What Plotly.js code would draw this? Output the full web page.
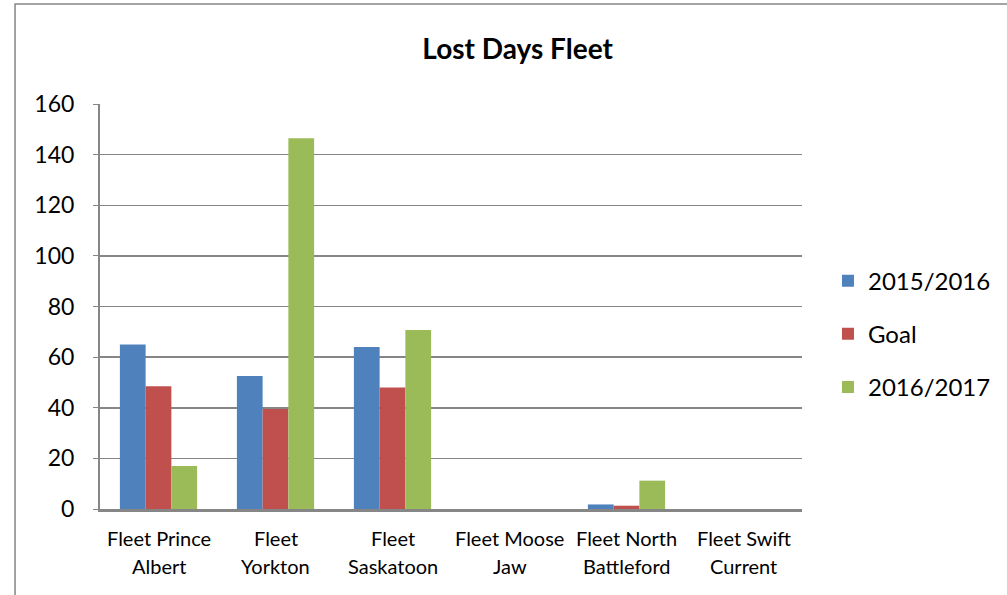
<!DOCTYPE html>
<html><head><meta charset="utf-8">
<script src="https://cdn.plot.ly/plotly-3.0.1.min.js"></script>
<style>html,body{margin:0;padding:0;background:#fff;}#chart{width:1007px;height:595px;}</style>
</head><body><div id="chart"></div>
<script>
const categories = ["Fleet Prince<br>Albert", "Fleet<br>Yorkton", "Fleet<br>Saskatoon", "Fleet Moose<br>Jaw", "Fleet North<br>Battleford", "Fleet Swift<br>Current"];
const series2015 = [65, 52.5, 64, 0, 1.8, 0];
const seriesGoal = [48.5, 39.5, 48, 0, 1.3, 0];
const series2016 = [17, 146.5, 70.7, 0, 11.2, 0];
const yTicks = [0, 20, 40, 60, 80, 100, 120, 140, 160];

const font = "Lato, 'Open Sans', 'DejaVu Sans', sans-serif";
const mk = (name, y, color) => ({type: 'bar', name, x: categories, y, legendgroup: name,
  marker: {color, line: {width: 0}}});
const data = [
  mk('2015/2016', series2015, '#4F81BD'),
  mk('Goal', seriesGoal, '#C0504D'),
  mk('2016/2017', series2016, '#9BBB59')
];
// category labels drawn as two separate lines to match the wider line spacing
const annotations = [];
categories.forEach(c => {
  const parts = c.split('<br>');
  parts.forEach((p, i) => annotations.push({
    x: c, xref: 'x', y: 0, yref: 'y', text: p, showarrow: false,
    yanchor: 'middle', xanchor: 'center', yshift: -(29 + 28 * i),
    font: {size: 20, family: font, color: '#000'}
  }));
});
const layout = {
  width: 1007, height: 595,
  margin: {l: 100, r: 205, t: 104, b: 86, autoexpand: false},
  paper_bgcolor: '#fff', plot_bgcolor: '#fff',
  font: {family: font, color: '#000'},
  title: {text: '<b>Lost Days Fleet</b>', font: {size: 28, family: font, color: '#000'},
    xref: 'container', x: 0.514, xanchor: 'center', yref: 'container', y: 0.918, yanchor: 'middle'},
  barmode: 'group', bargap: 0.34, bargroupgap: 0,
  showlegend: true,
  legend: {x: 1.037, xanchor: 'left', y: 0.432, yanchor: 'middle', font: {size: 24, family: font},
    traceorder: 'grouped', tracegroupgap: 19, itemwidth: 30, bgcolor: 'rgba(0,0,0,0)'},
  xaxis: {type: 'category', showgrid: false, showline: true, linecolor: '#868686', linewidth: 2.5,
    ticks: '', showticklabels: false, fixedrange: true},
  yaxis: {range: [0, 160], tickvals: yTicks, showgrid: true, gridcolor: '#868686', gridwidth: 1.5,
    showline: true, linecolor: '#868686', linewidth: 2, ticks: 'outside', ticklen: 5, tickcolor: '#868686',
    tickfont: {size: 23, family: font}, ticklabelstandoff: 14, zeroline: false, fixedrange: true},
  annotations,
  shapes: [{type: 'rect', xref: 'paper', yref: 'paper', x0: -0.121, x1: 1.4, y0: -0.4, y1: 1.247,
    line: {color: '#868686', width: 1.5}, fillcolor: 'rgba(0,0,0,0)', layer: 'below'}]
};
Plotly.newPlot('chart', data, layout, {displayModeBar: false, staticPlot: true});
</script></body></html>
